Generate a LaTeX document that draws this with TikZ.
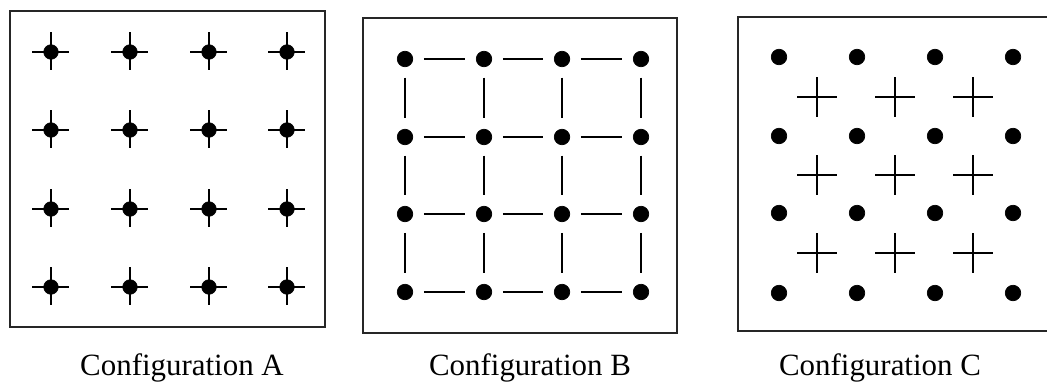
\documentclass[tikz,border=0pt]{standalone}
\usepackage{fontspec}
\setmainfont{Liberation Serif}
\usepackage{tikz}
\usetikzlibrary{calc,positioning}
\tikzset{
 cfg frame/.style={line width=1.3pt,draw=black!85},
 cfg dot/.style={circle,fill=black,draw=black,minimum size=.31cm,
                 inner sep=0pt,outer sep=0pt},
 cfg arm/.style={line width=1.4pt},
 cfg bond/.style={line width=1.4pt,shorten <=.22cm,shorten >=.22cm},
 cfg label/.style={anchor=base,font=\fontsize{17.6}{20}\selectfont}
}
\begin{document}
\begin{tikzpicture}[x=.02cm,y=.02cm]
 \useasboundingbox (0,0) rectangle (1047,383);
 % Configuration A
 \draw[cfg frame] (10,56) rectangle (325,372);
 \foreach \i/\x in {1/51,2/130,3/209,4/287}{
   \foreach \j/\y in {1/331,2/253,3/174,4/96}{
     \node[cfg dot,minimum size=.29cm] (a\i\j) at (\x,\y) {};
     \draw[cfg arm] ($(a\i\j.center)+(-19,0)$)--($(a\i\j.center)+(18,0)$);
     \draw[cfg arm] ($(a\i\j.center)+(0,20)$)--($(a\i\j.center)+(0,-18)$);
   }
 }
 \node[cfg label] (labA) at (182,8) {Configuration A};
 % Configuration B
 \draw[cfg frame] (363,50) rectangle (677,365);
 \foreach \i/\x in {1/405,2/484,3/562,4/641}{
   \foreach \j/\y in {1/324,2/246,3/169,4/91}{
     \node[cfg dot] (b\i\j) at (\x,\y) {};
   }
 }
 \foreach \i/\k in {1/2,2/3,3/4}{
   \foreach \j in {1,2,3,4}{
     \draw[cfg bond] (b\i\j)--(b\k\j);
     \draw[cfg bond] (b\j\i)--(b\j\k);
   }
 }
 \node[cfg label] (labB) at (530,8) {Configuration B};
 % Configuration C
 \draw[cfg frame] (1047,366)--(738,366)--(738,52)--(1047,52);
 \foreach \i/\x in {1/779,2/857,3/935,4/1013}{
   \foreach \j/\y in {1/326,2/247,3/170,4/90}{
     \node[cfg dot] (c\i\j) at (\x,\y) {};
   }
 }
 \foreach \i/\x in {1/817,2/895,3/973}{
   \foreach \j/\y in {1/286,2/208,3/130}{
     \coordinate (p\i\j) at (\x,\y);
     \draw[cfg arm] ($(p\i\j)+(-20,0)$)--($(p\i\j)+(20,0)$);
     \draw[cfg arm] ($(p\i\j)+(0,20)$)--($(p\i\j)+(0,-20)$);
   }
 }
 \node[cfg label] (labC) at (880,8) {Configuration C};
\end{tikzpicture}
\end{document}
